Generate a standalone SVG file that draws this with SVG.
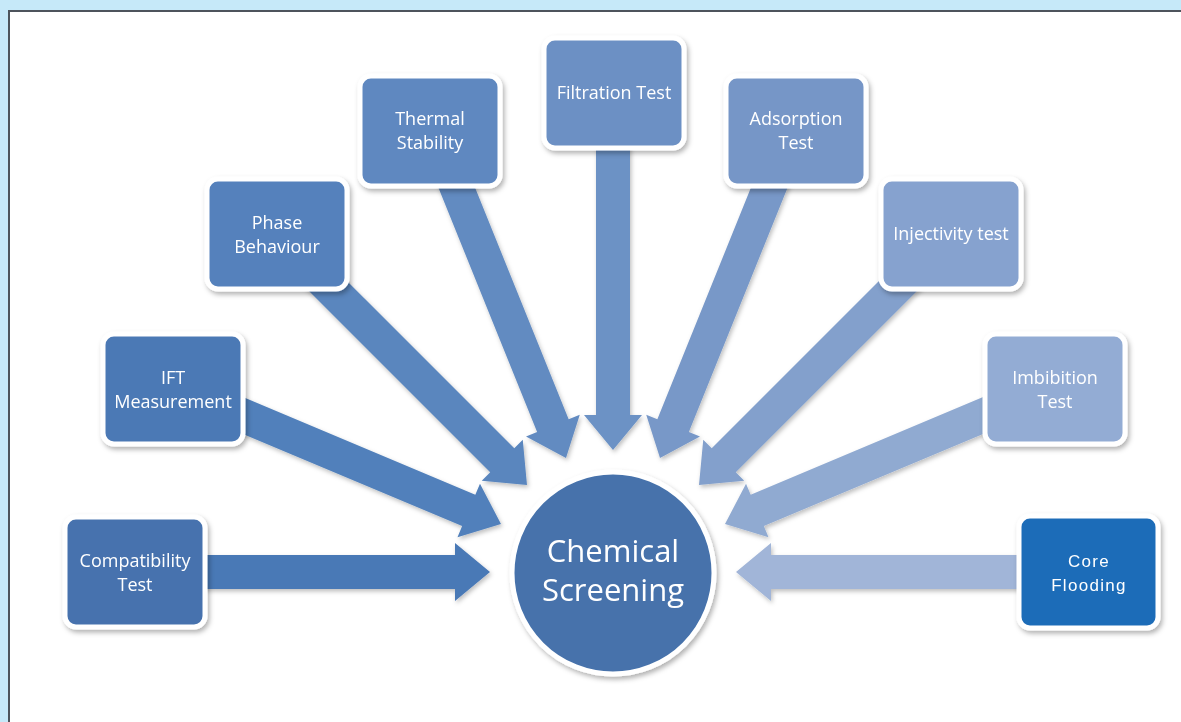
<svg xmlns="http://www.w3.org/2000/svg" width="1181" height="722" viewBox="0 0 1181 722">
<defs>
<filter id="sh" x="-20%" y="-20%" width="140%" height="140%">
<feDropShadow dx="2" dy="3" stdDeviation="2.5" flood-color="#000" flood-opacity="0.3"/>
</filter>
<filter id="ash" x="-20%" y="-20%" width="140%" height="140%">
<feDropShadow dx="1.5" dy="2.5" stdDeviation="2" flood-color="#000" flood-opacity="0.25"/>
</filter>
<path id="arr" d="M0,0 L-35,-29 L-35,-17 L-320,-17 L-320,17 L-35,17 L-35,29 Z"/>
</defs>
<style>
.box{stroke:#fff;stroke-width:5;filter:url(#sh)}
.t{font-family:"Open Sans","Liberation Sans",sans-serif;font-size:18px;fill:#fff;text-anchor:middle}
.c{font-family:"Open Sans","Liberation Sans",sans-serif;font-size:31px;fill:#fff;text-anchor:middle}
.cf{font-family:"Liberation Sans",Arial,sans-serif;font-size:17px;fill:#fff;text-anchor:middle;letter-spacing:1.3px}
</style>
<rect x="0" y="0" width="1181" height="722" fill="#c6e9f9"/>
<rect x="9" y="11" width="1200" height="800" fill="#fff" stroke="#4d545c" stroke-width="2"/>

<g id="connectors" filter="url(#ash)">
<use href="#arr" transform="translate(490,572) rotate(0)" fill="#4a79b6"/>
<use href="#arr" transform="translate(501,524) rotate(22.8)" fill="#5180bb"/>
<use href="#arr" transform="translate(527,485) rotate(45)" fill="#5a86be"/>
<use href="#arr" transform="translate(566,458) rotate(68)" fill="#628bc1"/>
<use href="#arr" transform="translate(613,450) rotate(90)" fill="#6c92c5"/>
<use href="#arr" transform="translate(660,458) rotate(112)" fill="#7898c8"/>
<use href="#arr" transform="translate(699,485) rotate(135)" fill="#83a0cc"/>
<use href="#arr" transform="translate(725,524) rotate(157.2)" fill="#90aad1"/>
<use href="#arr" transform="translate(736,572) rotate(180)" fill="#a1b5d8"/>
</g>

<g id="center">
<circle cx="613" cy="573" r="101" fill="#4672ab" stroke="#fff" stroke-width="5" filter="url(#sh)"/>
<text class="c" x="613" y="562">Chemical</text>
<text class="c" x="613" y="601">Screening</text>
</g>

<g id="compatibility">
<rect class="box" x="65" y="517" width="140" height="110" rx="11" fill="#4672ae"/>
<text class="t" x="135" y="567">Compatibility</text>
<text class="t" x="135" y="591">Test</text>
</g>
<g id="ift">
<rect class="box" x="103" y="334" width="140" height="110" rx="11" fill="#4c79b5"/>
<text class="t" x="173" y="384">IFT</text>
<text class="t" x="173" y="408">Measurement</text>
</g>
<g id="phase">
<rect class="box" x="207" y="179" width="140" height="110" rx="11" fill="#5481bc"/>
<text class="t" x="277" y="229">Phase</text>
<text class="t" x="277" y="253">Behaviour</text>
</g>
<g id="thermal">
<rect class="box" x="360" y="76" width="140" height="110" rx="11" fill="#5e88c0"/>
<text class="t" x="430" y="125">Thermal</text>
<text class="t" x="430" y="149">Stability</text>
</g>
<g id="filtration">
<rect class="box" x="544" y="38" width="140" height="110" rx="11" fill="#6c90c4"/>
<text class="t" x="614" y="99">Filtration Test</text>
</g>
<g id="adsorption">
<rect class="box" x="726" y="76" width="140" height="110" rx="11" fill="#7696c7"/>
<text class="t" x="796" y="125">Adsorption</text>
<text class="t" x="796" y="149">Test</text>
</g>
<g id="injectivity">
<rect class="box" x="881" y="179" width="140" height="110" rx="11" fill="#86a2cf"/>
<text class="t" x="951" y="240">Injectivity test</text>
</g>
<g id="imbibition">
<rect class="box" x="985" y="334" width="140" height="110" rx="11" fill="#93acd4"/>
<text class="t" x="1055" y="384">Imbibition</text>
<text class="t" x="1055" y="408">Test</text>
</g>
<g id="coreflooding">
<rect class="box" x="1019" y="516" width="139" height="112" rx="11" fill="#1e6cb8"/>
<text class="cf" x="1089" y="567">Core</text>
<text class="cf" x="1089" y="591">Flooding</text>
</g>
</svg>
